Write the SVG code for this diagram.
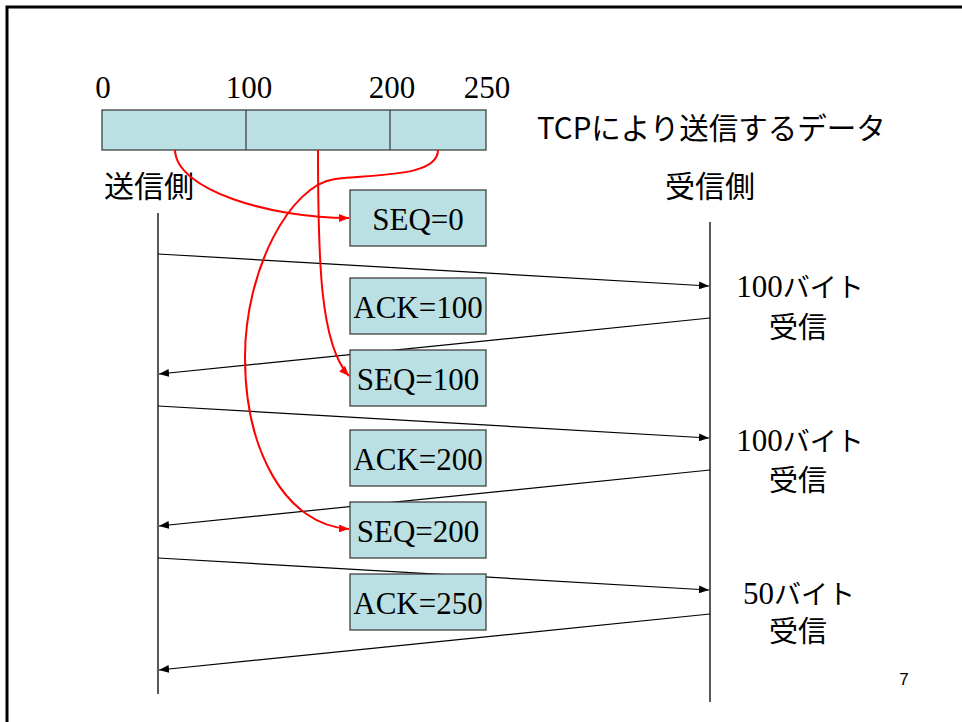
<svg xmlns="http://www.w3.org/2000/svg" width="962" height="722" viewBox="0 0 962 722">
<style>
.box{fill:#bbe0e3;stroke:#333;stroke-width:1.2}
.serif{font-family:"Liberation Serif","Noto Sans CJK JP",serif;font-size:31px;fill:#000}
.jp{font-family:"Noto Sans CJK JP",sans-serif;font-size:29px;fill:#000}
.msg{stroke:#000;stroke-width:1.2;fill:none;marker-end:url(#ah)}
.life{stroke:#000;stroke-width:1.3;fill:none}
.red{stroke:#f00;stroke-width:2;fill:none;marker-end:url(#rh)}
</style>
<defs>
<marker id="ah" viewBox="0 0 10 8" refX="10" refY="4" markerWidth="10" markerHeight="8" markerUnits="userSpaceOnUse" orient="auto"><path d="M0,0 L10,4 L0,8 z" fill="#000"/></marker>
<marker id="rh" viewBox="0 0 10 8" refX="10" refY="4" markerWidth="10" markerHeight="8" markerUnits="userSpaceOnUse" orient="auto"><path d="M0,0 L10,4 L0,8 z" fill="#f00"/></marker>
</defs>
<rect width="962" height="722" fill="#fff"/>
<path d="M7,722 V7 H962" fill="none" stroke="#000" stroke-width="3"/>

<g id="data-bar">
<rect class="box" x="102" y="110" width="384" height="40"/>
<line x1="246" y1="110" x2="246" y2="150" stroke="#333" stroke-width="1.2"/>
<line x1="390" y1="110" x2="390" y2="150" stroke="#333" stroke-width="1.2"/>
<text class="serif" x="103" y="98" text-anchor="middle">0</text>
<text class="serif" x="249" y="98" text-anchor="middle">100</text>
<text class="serif" x="392" y="98" text-anchor="middle">200</text>
<text class="serif" x="487" y="98" text-anchor="middle">250</text>
<text class="jp" x="537" y="139" style="font-size:29.5px">TCPにより送信するデータ</text>
</g>

<g id="sender">
<text class="jp" x="104" y="197" style="font-size:30px">送信側</text>
<line class="life" x1="158" y1="213" x2="158" y2="694"/>
</g>
<g id="receiver">
<text class="jp" x="665" y="197" style="font-size:30px">受信側</text>
<line class="life" x1="710" y1="222" x2="710" y2="702"/>
</g>

<g id="connectors">
<line class="msg" x1="158" y1="254" x2="709" y2="286"/>
<line class="msg" x1="710" y1="318" x2="159" y2="374"/>
<line class="msg" x1="158" y1="406" x2="709" y2="438"/>
<line class="msg" x1="710" y1="470" x2="159" y2="526"/>
<line class="msg" x1="158" y1="558" x2="709" y2="590"/>
<line class="msg" x1="710" y1="614" x2="159" y2="670"/>
<path class="red" d="M175,150 C176,190 270,218 349,218"/>
<path class="red" d="M318,150 C318,260 320,345 349,376"/>
<path class="red" d="M438,150 C438,178 370,174 335,179 C290,185 245,270 245,357 C245,450 285,525 349,529"/>
</g>

<g id="seq0"><rect class="box" x="350" y="190" width="136" height="56"/><text class="serif" x="418" y="230" text-anchor="middle">SEQ=0</text></g>
<g id="ack100"><rect class="box" x="350" y="278" width="136" height="56"/><text class="serif" x="418" y="318" text-anchor="middle">ACK=100</text></g>
<g id="seq100"><rect class="box" x="350" y="350" width="136" height="56"/><text class="serif" x="418" y="390" text-anchor="middle">SEQ=100</text></g>
<g id="ack200"><rect class="box" x="350" y="430" width="136" height="56"/><text class="serif" x="418" y="470" text-anchor="middle">ACK=200</text></g>
<g id="seq200"><rect class="box" x="350" y="502" width="136" height="56"/><text class="serif" x="418" y="542" text-anchor="middle">SEQ=200</text></g>
<g id="ack250"><rect class="box" x="350" y="574" width="136" height="56"/><text class="serif" x="418" y="614" text-anchor="middle">ACK=250</text></g>

<g id="recv1">
<text class="serif" x="800" y="297" text-anchor="middle">100<tspan style="font-family:'Noto Sans CJK JP',sans-serif;font-size:27px">バイト</tspan></text>
<text class="jp" x="798" y="338" text-anchor="middle">受信</text>
</g>
<g id="recv2">
<text class="serif" x="800" y="451" text-anchor="middle">100<tspan style="font-family:'Noto Sans CJK JP',sans-serif;font-size:27px">バイト</tspan></text>
<text class="jp" x="798" y="491" text-anchor="middle">受信</text>
</g>
<g id="recv3">
<text class="serif" x="799" y="604" text-anchor="middle">50<tspan style="font-family:'Noto Sans CJK JP',sans-serif;font-size:27px">バイト</tspan></text>
<text class="jp" x="798" y="642" text-anchor="middle">受信</text>
</g>

<text x="904" y="685" text-anchor="middle" style="font-family:'Liberation Sans',sans-serif;font-size:17px">7</text>
</svg>
